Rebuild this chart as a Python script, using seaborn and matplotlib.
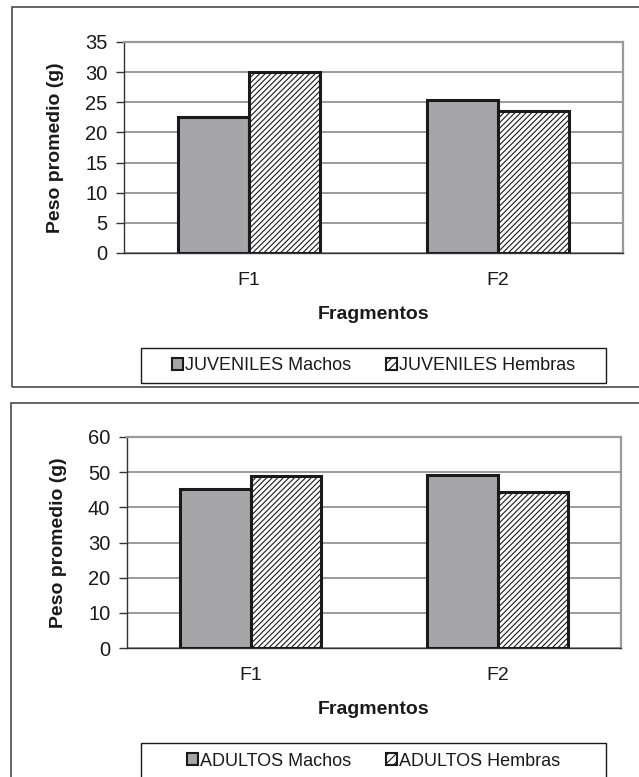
import matplotlib
matplotlib.use("Agg")
import matplotlib.pyplot as plt
import matplotlib.patches as mpatches
import seaborn as sns
import pandas as pd

# Weights by fragment and sex, for juveniles and adults
fragmentos = ["F1", "F2"]
juv_machos = [22.6, 25.3]
juv_hembras = [30.0, 23.6]
adu_machos = [45.2, 49.2]
adu_hembras = [48.8, 44.3]

juv_labels = ["JUVENILES Machos", "JUVENILES Hembras"]
adu_labels = ["ADULTOS Machos", "ADULTOS Hembras"]

juv_ticks = [0, 5, 10, 15, 20, 25, 30, 35]
adu_ticks = [0, 10, 20, 30, 40, 50, 60]

sns.set_theme(style="white")
plt.rcParams["font.family"] = ["Liberation Sans", "DejaVu Sans"]
plt.rcParams["hatch.color"] = "#b2b2b2"
plt.rcParams["hatch.linewidth"] = 0.8

W, H = 639, 777
fig = plt.figure(figsize=(W / 100, H / 100), dpi=100)
fig.patch.set_facecolor("white")

GRAY_FILL = "#a6a6a8"
GRID = "#8a8a8a"
TXT = "#1a1a1a"


def px_rect(x0, y0, x1, y1):
    return [x0 / W, 1 - y1 / H, (x1 - x0) / W, (y1 - y0) / H]


def panel(axrect, machos, hembras, labels, ticks, frame, legbox):
    # outer frame of the panel
    fx0, fy0, fx1, fy1 = frame
    fig.patches.append(mpatches.Rectangle((fx0 / W, 1 - fy1 / H), (fx1 - fx0) / W, (fy1 - fy0) / H,
                                          transform=fig.transFigure, fill=False,
                                          edgecolor="#4a4a4a", linewidth=1.2, zorder=0))
    ax = fig.add_axes(px_rect(*axrect))
    df = pd.DataFrame({
        "Fragmento": fragmentos * 2,
        "Grupo": [labels[0]] * len(fragmentos) + [labels[1]] * len(fragmentos),
        "Peso": list(machos) + list(hembras),
    })
    sns.barplot(data=df, x="Fragmento", y="Peso", hue="Grupo", order=fragmentos,
                hue_order=labels, palette=[GRAY_FILL, "white"], width=0.57,
                edgecolor=TXT, linewidth=2.2, saturation=1, legend=False, ax=ax)
    for bar in ax.patches[len(fragmentos):2 * len(fragmentos)]:
        bar.set_hatch("//////")
    for bar in ax.patches:
        bar.set_zorder(3)
    ax.set_xlim(-0.5, len(fragmentos) - 0.5)
    ax.set_ylim(ticks[0], ticks[-1])
    ax.set_yticks(ticks)
    ax.yaxis.grid(True, color=GRID, linewidth=1.2, zorder=0)
    ax.set_axisbelow(True)
    ax.set_xticks(range(len(fragmentos)))
    ax.set_xticklabels(fragmentos)
    ax.set_xticks([i - 0.5 for i in range(len(fragmentos) + 1)], minor=True)
    ax.tick_params(axis="x", which="major", length=0, labelsize=14, pad=14, labelcolor=TXT)
    ax.tick_params(axis="x", which="minor", length=6, width=1, color="#333333", direction="out")
    ax.tick_params(axis="y", length=6, width=1, color="#333333", direction="out",
                   labelsize=14.5, pad=6, labelcolor=TXT, left=True)
    for side in ["top", "right"]:
        ax.spines[side].set_color("#9a9a9a")
        ax.spines[side].set_linewidth(1.6)
    for side in ["left", "bottom"]:
        ax.spines[side].set_color("#333333")
        ax.spines[side].set_linewidth(1.0)
    ax.set_xlabel("Fragmentos", fontsize=14, fontweight="bold", labelpad=12, color=TXT)
    ax.set_ylabel("Peso promedio (g)", fontsize=14, fontweight="bold", labelpad=15, color=TXT)

    # legend box below the plot
    lx0, ly0, lx1, ly1 = legbox
    fig.patches.append(mpatches.Rectangle((lx0 / W, 1 - ly1 / H), (lx1 - lx0) / W, (ly1 - ly0) / H,
                                          transform=fig.transFigure, fill=False,
                                          edgecolor=TXT, linewidth=1.0, zorder=1))
    handles = [mpatches.Patch(facecolor=GRAY_FILL, edgecolor=TXT, linewidth=1.5, label=labels[0]),
               mpatches.Patch(facecolor="white", edgecolor=TXT, linewidth=1.5, hatch="////",
                              label=labels[1])]
    cy = 1 - (ly0 + 18) / H
    fig.legend(handles=handles, loc="center", bbox_to_anchor=((lx0 + lx1) / 2 / W, cy),
               ncol=2, frameon=False, fontsize=13, handlelength=0.65, handleheight=0.65,
               handletextpad=0.1, columnspacing=1.9, labelcolor=TXT)
    return ax


panel((124, 42, 623, 253), juv_machos, juv_hembras, juv_labels, juv_ticks,
      frame=(12, 7, 660, 387), legbox=(141, 348, 606, 383))
panel((127, 437, 621, 648), adu_machos, adu_hembras, adu_labels, adu_ticks,
      frame=(11, 403, 660, 800), legbox=(141, 743, 606, 800))

fig.savefig("out.png", dpi=100, facecolor="white")
